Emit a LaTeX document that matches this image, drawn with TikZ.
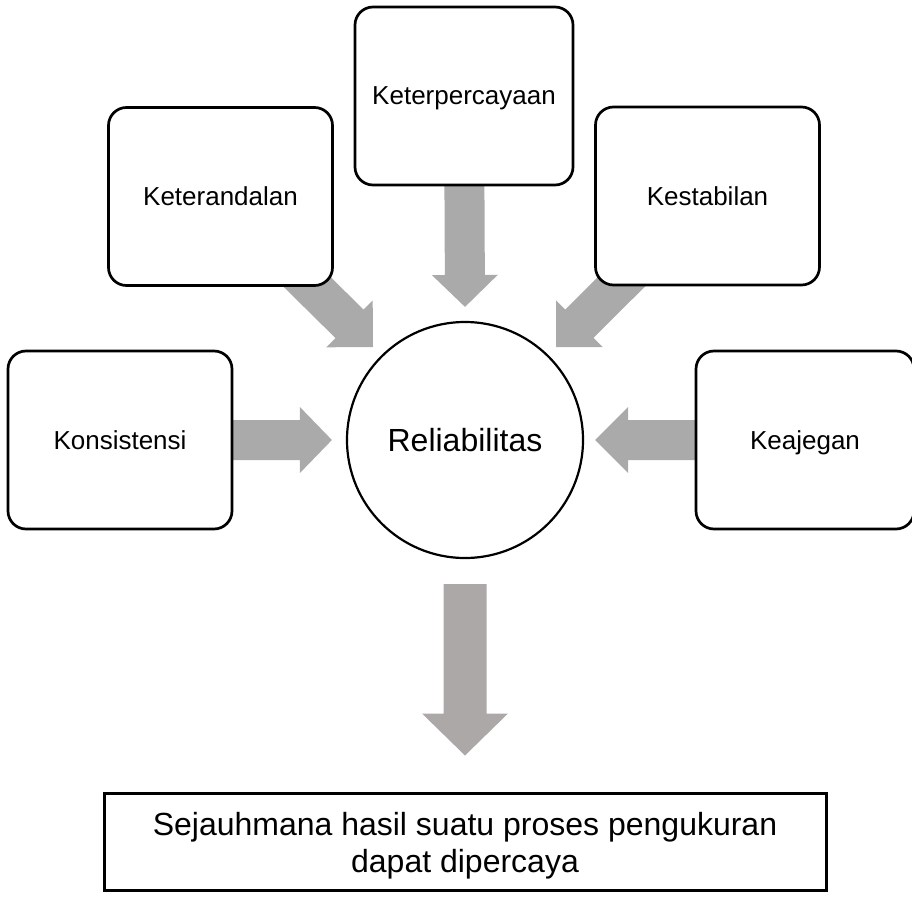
\documentclass[tikz,border=0pt]{standalone}
\usepackage{fontspec}
\setmainfont{Liberation Sans}
\usetikzlibrary{calc,backgrounds}

\definecolor{arrowgray}{HTML}{AAAAAA}
\definecolor{arrowwarm}{HTML}{ACA8A7}

% Block arrow: [colour]{start}{tip}{shaft half-width}{head half-width}{head length}
\newcommand{\blockarrow}[6][arrowgray]{%
  \coordinate (ba-s) at (#2);
  \coordinate (ba-t) at (#3);
  \coordinate (ba-b) at ($(ba-t)!#6!(ba-s)$);
  \fill[#1] ($(ba-s)!#4!90:(ba-t)$) -- ($(ba-b)!#4!90:(ba-t)$)
    -- ($(ba-b)!#5!90:(ba-t)$) -- (ba-t) -- ($(ba-b)!#5!-90:(ba-t)$)
    -- ($(ba-b)!#4!-90:(ba-t)$) -- ($(ba-s)!#4!-90:(ba-t)$) -- cycle;
}

\begin{document}
\begin{tikzpicture}[x=1pt,y=-1pt,
  box/.style={draw,line width=2.7pt,rounded corners=18pt,fill=white,
    minimum width=224pt,minimum height=178pt,inner sep=0pt,
    font=\fontsize{26}{30}\selectfont,text depth=0pt},
  hub/.style={draw,circle,line width=2.2pt,fill=white,minimum size=236pt,
    inner sep=0pt,font=\fontsize{32}{37}\selectfont},
  result/.style={draw,line width=3pt,fill=white,minimum width=722pt,
    minimum height=97pt,inner sep=0pt,align=center,
    font=\fontsize{32}{37}\selectfont}]
\useasboundingbox (0,0) rectangle (912,904);
\clip (0,0) rectangle (912,904);

% outer factors
\node[box] (kons)  at (120,440)   {Konsistensi};
\node[box] (ktr)   at (220.5,196.5) {Keterandalan};
\node[box,minimum width=218pt] (kper) at (464,96) {Keterpercayaan};
\node[box] (kstab) at (707.5,196) {Kestabilan};
\node[box,minimum width=218pt] (kaj) at (805,440) {Keajegan};

% central concept and its meaning
\node[hub] (rel) at (465,440) {Reliabilitas};
\node[result] (res) at (465,841.5)
  {\rule{0pt}{31pt}Sejauhmana hasil suatu proses pengukuran\\dapat dipercaya};

% arrow tips
\coordinate (tipL)  at ($(rel.west)+(-14,0)$);
\coordinate (tipR)  at ($(rel.east)+(11,0)$);
\coordinate (tipT)  at ($(rel.north)+(0,-14)$);
\coordinate (tipTL) at (373,347);
\coordinate (tipTR) at (556,347);
\coordinate (outS)  at ($(rel.south)+(0,25)$);
\coordinate (outT)  at ($(res.north)+(0,-36)$);

\begin{pgfonlayer}{background}
  \blockarrow{kons.center}{tipL}{20pt}{33pt}{32pt}
  \blockarrow{kaj.center}{tipR}{20pt}{33pt}{33pt}
  \blockarrow{kper.center}{tipT}{20pt}{33pt}{32pt}
  \blockarrow{ktr.center}{tipTL}{20pt}{33pt}{33pt}
  \blockarrow{kstab.center}{tipTR}{20pt}{33pt}{33pt}
  \blockarrow[arrowwarm]{outS}{outT}{21.5pt}{43pt}{42pt}
\end{pgfonlayer}
\end{tikzpicture}
\end{document}
